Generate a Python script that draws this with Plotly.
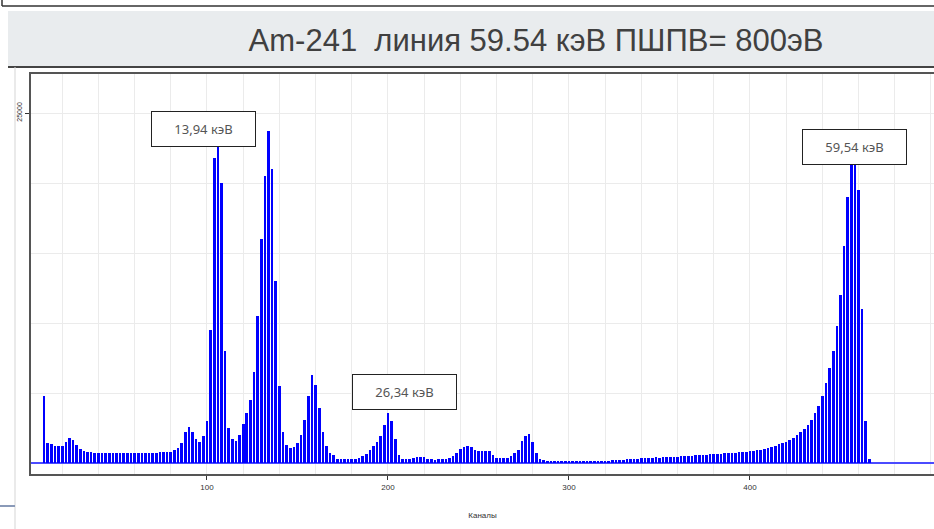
import plotly.graph_objects as go

# Spectrum counts in 2-channel bins, grouped by region of the spectrum
low_start = 10
counts_low = [4800, 1450, 1350, 1250, 1250, 1250, 1500, 1780, 1650, 1300,
              1000, 850, 780, 760, 740, 720, 700, 690, 680, 680,
              690, 680, 700, 690, 680, 700, 710, 700, 720, 730,
              740, 750, 760, 780, 800, 820, 900, 1050, 1400, 2200,
              2550, 2200, 1700, 1500, 1900]

mid_start = 100
counts_mid = [3000, 9500, 21800, 23500, 20000, 8000, 2500, 1700, 1600, 2000,
              2800, 3600, 4500, 6500, 10500, 16000, 20500, 23700, 21000, 13000,
              5500, 2200, 1300, 1100, 1150, 1400, 2000, 3100, 4800, 6300,
              5600, 3900, 2200, 1200, 750, 550, 320, 300, 280, 300,
              290, 320, 380, 500, 650, 900, 1200, 1500, 1900, 2700,
              3550, 3000, 1700, 600, 320, 260, 280, 350, 420, 460,
              430, 300, 260, 250, 270, 280, 300, 380, 480, 700,
              1000, 1150, 1210, 1150, 900, 850, 880, 880, 830, 550,
              380, 330, 350, 360, 500, 700, 950, 1600, 1900, 2050,
              1500, 700, 300, 180, 160, 150, 140, 150, 140, 150]

tail_start = 300
counts_tail = [110, 100, 110, 100, 110, 100, 110, 120, 110, 120,
               130, 150, 180, 210, 240, 230, 310, 300, 320, 300,
               330, 340, 360, 380, 400, 390, 410, 420, 440, 430,
               460, 480, 500, 490, 520, 540, 560, 570, 590, 610,
               630, 650, 660, 680, 700, 720, 740, 760, 790, 810,
               840, 870, 910, 950, 1010, 1080, 1160, 1240, 1330, 1420,
               1530]

peak_start = 422
counts_peak = [1650, 1800, 1980, 2200, 2450, 2750, 3100, 3550, 4100, 4800,
               5700, 6800, 8000, 9800, 12000, 15500, 19000, 22000, 22500, 19500,
               11000, 3000, 300]

segments = [(low_start, counts_low), (mid_start, counts_mid),
            (tail_start, counts_tail), (peak_start, counts_peak)]

channels, counts = [], []
for start, vals in segments:
    for i, v in enumerate(vals):
        channels.append(start + 2 * i)
        counts.append(v)

x_ticks = [100, 200, 300, 400]
y_ticks = [25000]

peak_labels = ["13,94 кэВ", "26,34 кэВ", "59,54 кэВ"]
label_x = [97.8, 209.1, 457.7]
label_y = [23890, 5070, 22570]

title_text = "Am-241  линия 59.54 кэВ ПШПВ= 800эВ"
x_title = "Каналы"

W, H = 934, 529
L, T, B = 31, 74, 55
plot_w = W - L
plot_h = H - T - B


def px(xpix):
    return (xpix - L) / plot_w


def py(ypix):
    return (H - B - ypix) / plot_h


fig = go.Figure()
fig.add_trace(go.Bar(
    x=channels, y=counts, width=1.45,
    marker=dict(color="#0000ff", line=dict(width=0)),
    hoverinfo="x+y",
))

grid = "#ebebeb"
fig.update_layout(
    width=W, height=H,
    margin=dict(l=L, r=0, t=T, b=B, pad=0),
    paper_bgcolor="white", plot_bgcolor="white",
    showlegend=False, bargap=0,
    title=dict(text=title_text, x=536 / W, xanchor="center",
               y=1 - 40 / H, yanchor="middle",
               font=dict(family="Liberation Sans Narrow, Liberation Sans, Arial",
                         size=31, color="#404040")),
    xaxis=dict(range=[2.76, 501.7], tickvals=x_ticks,
               ticktext=[str(v) for v in x_ticks],
               ticks="outside", ticklen=4, tickcolor="#333", tickwidth=1,
               tickfont=dict(family="Liberation Sans", size=8, color="#333"),
               showgrid=True, gridcolor=grid, gridwidth=1,
               minor=dict(dtick=20, tick0=0, showgrid=True, gridcolor=grid,
                          gridwidth=1, ticks=""),
               showline=True, linecolor="#555", linewidth=2, mirror=True,
               zeroline=False,
               title=dict(text=x_title, standoff=22,
                          font=dict(family="Liberation Sans", size=8, color="#333"))),
    yaxis=dict(range=[-786, 27786], tickvals=y_ticks,
               ticktext=[str(v) for v in y_ticks], tickangle=-90,
               ticks="outside", ticklen=4, tickcolor="#333", tickwidth=1,
               tickfont=dict(family="Liberation Sans", size=7, color="#333"),
               showgrid=True, gridcolor=grid, gridwidth=1,
               minor=dict(dtick=5000, tick0=0, showgrid=True, gridcolor=grid,
                          gridwidth=1, ticks=""),
               showline=True, linecolor="#555", linewidth=2, mirror=False,
               zeroline=True, zerolinecolor="#4b4bff", zerolinewidth=2),
)

for txt, xv, yv in zip(peak_labels, label_x, label_y):
    fig.add_annotation(x=xv, y=yv, xref="x", yref="y", text=txt,
                       showarrow=False, xanchor="center", yanchor="middle",
                       width=95, height=26, borderpad=4, borderwidth=1,
                       bordercolor="#222", bgcolor="white", align="center",
                       font=dict(family="Noto Sans", size=13, color="#555"))

# slide decorations: header band, frame lines
shapes = [
    dict(type="rect", xref="paper", yref="paper", x0=px(8), x1=px(W),
         y0=py(67), y1=py(11), fillcolor="#e9ecee", line=dict(width=0),
         layer="below"),
    dict(type="line", xref="paper", yref="paper", x0=px(8), x1=px(W),
         y0=py(67), y1=py(67), line=dict(color="#444", width=2)),
    dict(type="line", xref="paper", yref="paper", x0=px(2), x1=px(W),
         y0=py(6), y1=py(6), line=dict(color="#333", width=1.5)),
    dict(type="line", xref="paper", yref="paper", x0=px(2), x1=px(2),
         y0=py(0), y1=py(6), line=dict(color="#333", width=1.5)),
    dict(type="line", xref="paper", yref="paper", x0=px(15), x1=px(15),
         y0=py(67), y1=py(H), line=dict(color="#d5d5d5", width=1)),
    dict(type="line", xref="paper", yref="paper", x0=px(0), x1=px(15),
         y0=py(506), y1=py(506), line=dict(color="#8a9ab8", width=2)),
]
fig.update_layout(shapes=shapes)

fig.write_html("out.html")
